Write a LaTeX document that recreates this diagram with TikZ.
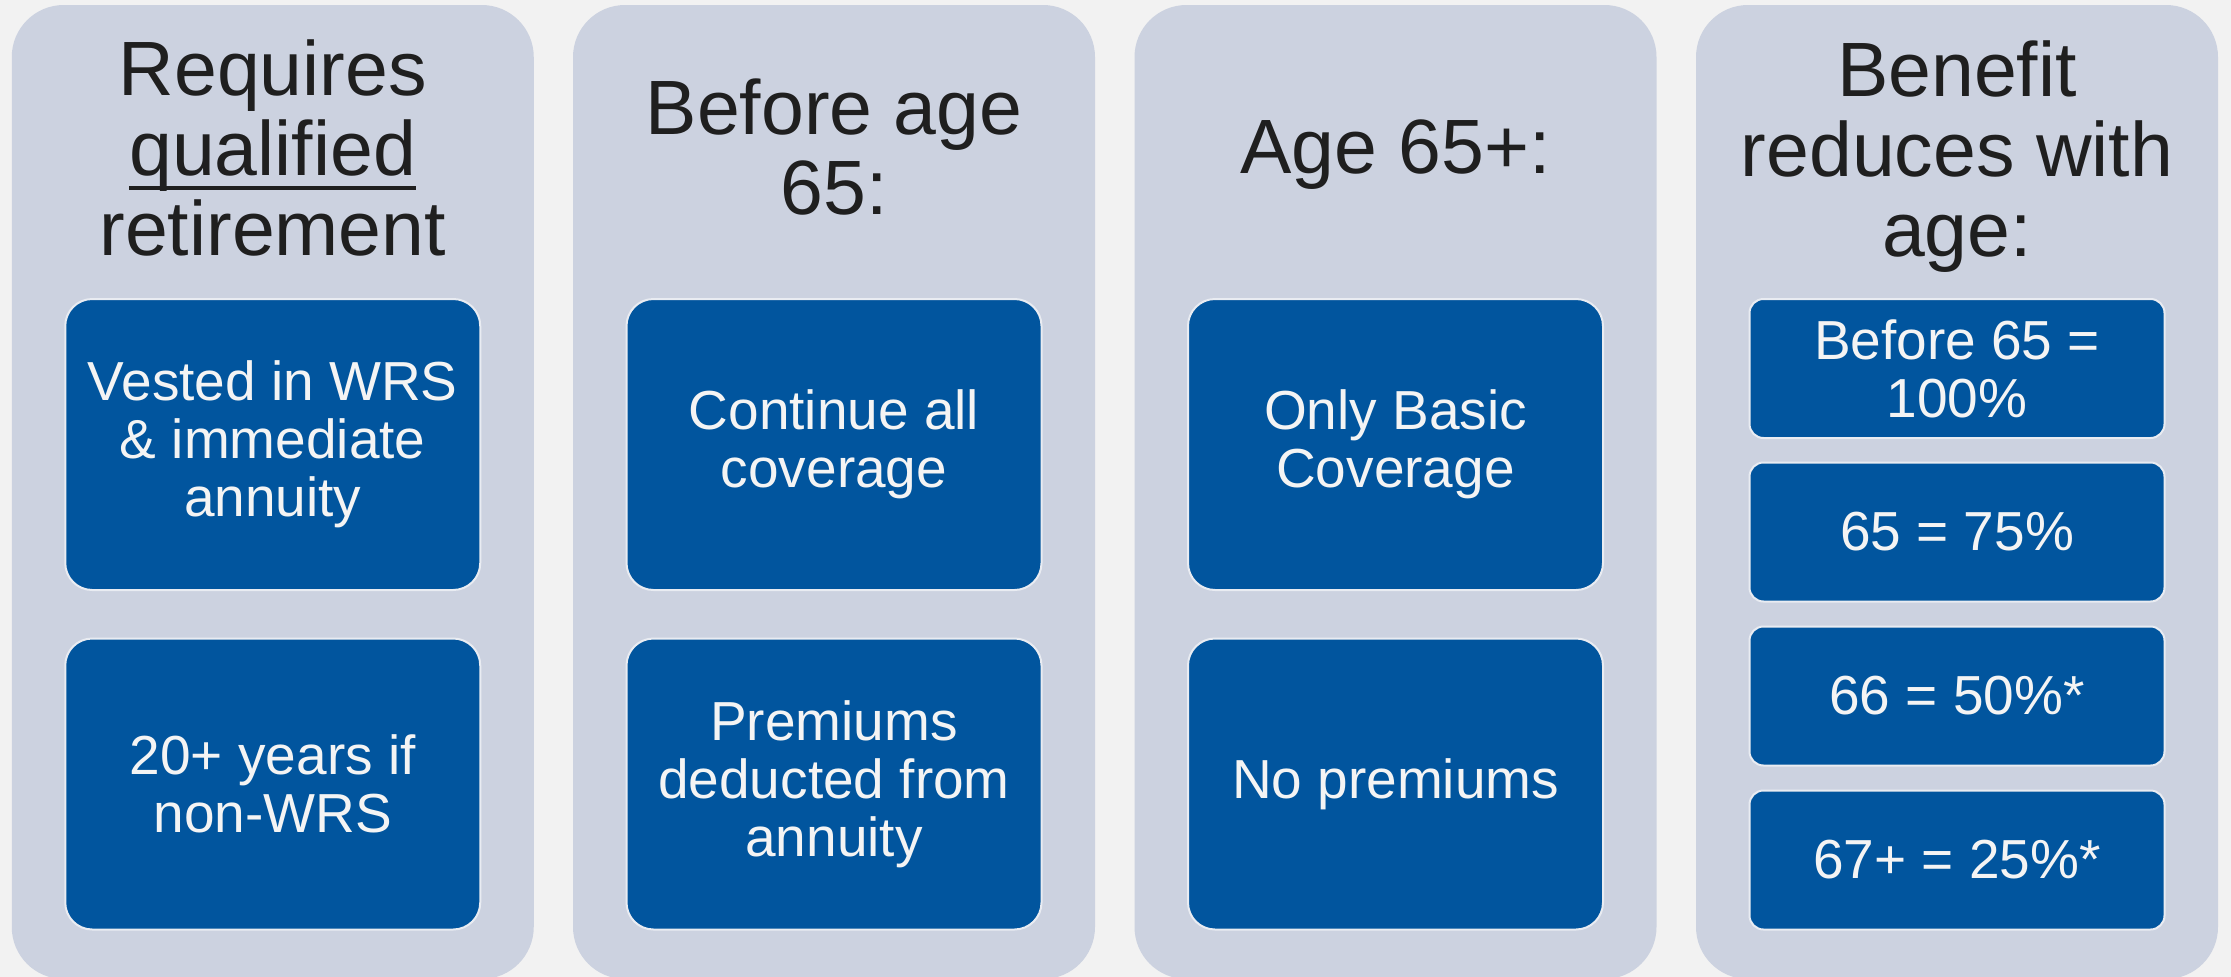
\documentclass[tikz,border=0pt]{standalone}
\usepackage{fontspec}
\setmainfont{Liberation Sans}
\usepackage{xcolor}
\usepackage{tikz}

\definecolor{pageGray}{HTML}{F2F2F2}
\definecolor{panelBlue}{HTML}{CCD2E0}
\definecolor{boxBlue}{HTML}{01559E}
\definecolor{boxEdge}{HTML}{E9ECF2}
\definecolor{headInk}{HTML}{1F1F1F}
\definecolor{boxInk}{HTML}{F4F4F4}

% underline that cuts through the descender
\newcommand{\ulword}[1]{\setbox0\hbox{#1}\rlap{\rule[-14pt]{\wd0}{4pt}}#1}

\begin{document}
\begin{tikzpicture}[x=1pt, y=-1pt,
    panel/.style={fill=panelBlue, rounded corners=52pt, minimum width=522pt, minimum height=974pt, inner sep=0pt},
    head/.style={anchor=north, inner sep=0pt, align=center, text=headInk, font=\fontsize{77}{80}\selectfont},
    bigbox/.style={fill=boxBlue, draw=boxEdge, line width=2pt, rounded corners=27pt, minimum width=415pt, minimum height=291pt, inner sep=0pt, align=center, text=boxInk, font=\fontsize{55}{58}\selectfont},
    smallbox/.style={bigbox, rounded corners=14pt, minimum height=139pt}]
    \path[use as bounding box, fill=pageGray] (0,0) rectangle (2231,977);

    \node[panel] (colQual) at (272.75,492) {};
    \node[panel] (colUnder) at (834,492) {};
    \node[panel] (colOver) at (1395.5,492) {};
    \node[panel] (colAge) at (1957,492) {};

    \node[head] (headQual) at (272.75,40) {Requires\\ \ulword{qualified}\\ retirement};
    \node[head] (headUnder) at (834,79) {Before age\\ 65:};
    \node[head] (headOver) at (1395.5,120) {Age 65+:};
    \node[head] (headAge) at (1957,41) {Benefit\\ reduces with\\ age:};

    \node[bigbox] (vested) at (272.75,444.5) {Vested in WRS\\ \& immediate\\ annuity};
    \node[bigbox] (twenty) at (272.75,784) {20+ years if\\ non-WRS};
    \node[bigbox] (contAll) at (834,444.5) {Continue all\\ coverage};
    \node[bigbox] (premDed) at (834,784) {Premiums\\ deducted from\\ annuity};
    \node[bigbox] (basicOnly) at (1395.5,444.5) {Only Basic\\ Coverage};
    \node[bigbox] (noPrem) at (1395.5,784) {No premiums};

    \node[smallbox] (pctFull) at (1957,368.5) {Before 65 =\\ 100\%};
    \node[smallbox] (pctSixFive) at (1957,532) {65 = 75\%};
    \node[smallbox] (pctSixSix) at (1957,696) {66 = 50\%*};
    \node[smallbox] (pctSixSeven) at (1957,860) {67+ = 25\%*};
  \end{tikzpicture}
\end{document}
